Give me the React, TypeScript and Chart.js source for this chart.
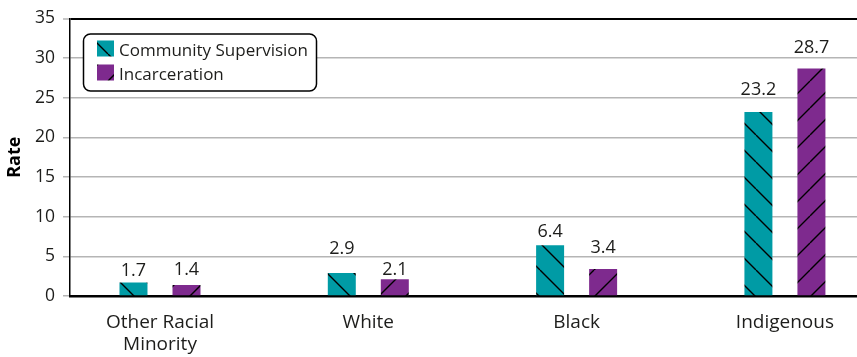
import React, { useEffect, useRef } from 'react';
import { Chart, registerables } from 'chart.js';

Chart.register(...registerables);

// Data
const categories: (string | string[])[] = [['Other Racial', 'Minority'], 'White', 'Black', 'Indigenous'];
const seriesLabels = ['Community Supervision', 'Incarceration'];
const communitySupervision = [1.7, 2.9, 6.4, 23.2];
const incarceration = [1.4, 2.1, 3.4, 28.7];
const yTickValues = [0, 5, 10, 15, 20, 25, 30, 35];

// Gap (px) between each bar top and the baseline of its value label, per series
const labelGaps = [
  [7, 19, 8, 17],
  [10, 4, 16, 15],
];

const TEAL = '#009ba5';
const PURPLE = '#7e2a8e';
const GRID = '#b5b5b5';
const TEXT = '#1d1d1b';
const FONT = '"Open Sans", "Noto Sans", sans-serif';

// Diagonal hatch fill: 'back' = lines going down-right, 'fwd' = lines going up-right
function makeHatch(color: string, dir: 'back' | 'fwd'): CanvasPattern | string {
  const size = 27;
  const c = document.createElement('canvas');
  c.width = size;
  c.height = size;
  const g = c.getContext('2d');
  if (!g) return color;
  g.fillStyle = color;
  g.fillRect(0, 0, size, size);
  g.strokeStyle = '#000';
  g.lineWidth = 1.4;
  g.beginPath();
  for (const o of [-size, 0, size]) {
    if (dir === 'back') {
      g.moveTo(o, 0);
      g.lineTo(o + size, size);
    } else {
      g.moveTo(o, size);
      g.lineTo(o + size, 0);
    }
  }
  g.stroke();
  return g.createPattern(c, 'repeat') || color;
}

export default function App() {
  const canvasRef = useRef<HTMLCanvasElement | null>(null);

  useEffect(() => {
    const canvas = canvasRef.current;
    if (!canvas) return;

    const tealFill = makeHatch(TEAL, 'back');
    const purpleFill = makeHatch(PURPLE, 'fwd');
    const fills = [tealFill, purpleFill];

    const valueLabels = {
      id: 'valueLabels',
      afterDatasetsDraw(chart: any) {
        const ctx = chart.ctx;
        ctx.save();
        ctx.font = `18px ${FONT}`;
        ctx.fillStyle = TEXT;
        ctx.textAlign = 'center';
        ctx.textBaseline = 'alphabetic';
        chart.data.datasets.forEach((ds: any, i: number) => {
          chart.getDatasetMeta(i).data.forEach((bar: any, j: number) => {
            ctx.fillText(Number(ds.data[j].y).toFixed(1), bar.x, bar.y - labelGaps[i][j]);
          });
        });
        ctx.restore();
      },
    };

    const boxedLegend = {
      id: 'boxedLegend',
      afterDraw(chart: any) {
        const ctx = chart.ctx;
        const area = chart.chartArea;
        const x = area.left + 13.5;
        const y = area.top + 15.5;
        const w = 233;
        const h = 57;
        const r = 7;
        ctx.save();
        ctx.beginPath();
        ctx.moveTo(x + r, y);
        ctx.arcTo(x + w, y, x + w, y + h, r);
        ctx.arcTo(x + w, y + h, x, y + h, r);
        ctx.arcTo(x, y + h, x, y, r);
        ctx.arcTo(x, y, x + w, y, r);
        ctx.closePath();
        ctx.fillStyle = '#fff';
        ctx.fill();
        ctx.lineWidth = 1.5;
        ctx.strokeStyle = '#000';
        ctx.stroke();

        ctx.font = `17px ${FONT}`;
        ctx.textAlign = 'left';
        ctx.textBaseline = 'alphabetic';
        seriesLabels.forEach((label, i) => {
          const sy = area.top + 22 + i * 24;
          ctx.fillStyle = fills[i];
          ctx.fillRect(area.left + 27, sy, 17, 16);
          ctx.fillStyle = TEXT;
          ctx.fillText(label, area.left + 49, sy + 15);
        });
        ctx.restore();
      },
    };

    const chart = new Chart(canvas, {
      type: 'bar',
      data: {
        datasets: [
          {
            label: seriesLabels[0],
            data: communitySupervision.map((v, i) => ({ x: i, y: v })),
            backgroundColor: tealFill as any,
            borderWidth: 0,
          },
          {
            label: seriesLabels[1],
            data: incarceration.map((v, i) => ({ x: i, y: v })),
            backgroundColor: purpleFill as any,
            borderWidth: 0,
          },
        ],
      },
      options: {
        animation: false,
        responsive: true,
        maintainAspectRatio: false,
        devicePixelRatio: 1,
        categoryPercentage: 0.509,
        barPercentage: 0.528,
        layout: { padding: { top: 16, right: 0, left: 0, bottom: 0 } },
        plugins: {
          legend: { display: false },
          tooltip: { enabled: false },
        },
        scales: {
          x: {
            type: 'linear',
            offset: false,
            min: -0.432,
            max: 3.346,
            afterBuildTicks: (scale: any) => {
              scale.ticks = categories.map((_, i) => ({ value: i }));
            },
            afterFit: (scale: any) => {
              scale.height = 61;
            },
            grid: { display: false, drawTicks: false },
            border: { display: true, color: '#000', width: 2.5 },
            ticks: {
              autoSkip: false,
              maxRotation: 0,
              padding: 16,
              color: TEXT,
              font: { family: FONT, size: 19, lineHeight: 1.16 },
              callback: (value: any) => categories[Math.round(Number(value))] as any,
            },
          },
          y: {
            min: 0,
            max: 35,
            afterBuildTicks: (scale: any) => {
              scale.ticks = yTickValues.map((v) => ({ value: v }));
            },
            afterFit: (scale: any) => {
              scale.width = 70;
            },
            grid: {
              color: (ctx: any) =>
                ctx.tick && ctx.tick.value === 35 ? '#000' : ctx.tick && ctx.tick.value === 0 ? 'rgba(0,0,0,0)' : GRID,
              lineWidth: (ctx: any) => (ctx.tick && ctx.tick.value === 35 ? 2 : 1.5),
              tickColor: GRID,
              tickLength: 7,
              tickWidth: 1.5,
            },
            border: { display: true, color: '#000', width: 1.5 },
            ticks: {
              padding: 8,
              color: TEXT,
              font: { family: FONT, size: 17.5 },
            },
            title: {
              display: true,
              text: 'Rate',
              color: '#000',
              padding: { top: 4, bottom: 0 },
              font: { family: FONT, size: 18, weight: 'bold' },
            },
          },
        },
      },
      plugins: [valueLabels, boxedLegend],
    });

    return () => chart.destroy();
  }, []);

  return (
    <div style={{ position: 'fixed', left: 0, top: 0, width: 857, height: 357, background: '#fff' }}>
      <canvas ref={canvasRef} />
    </div>
  );
}
